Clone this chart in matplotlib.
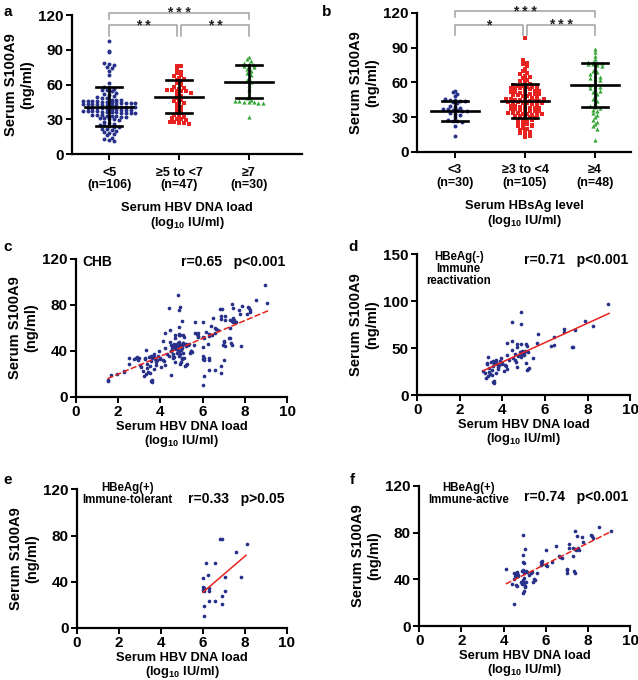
import numpy as np
import matplotlib
matplotlib.use("Agg")
import matplotlib.pyplot as plt

plt.rcParams['font.family'] = ['Liberation Sans', 'DejaVu Sans']
plt.rcParams['font.weight'] = 'bold'
plt.rcParams['axes.labelweight'] = 'bold'
plt.rcParams['mathtext.fontset'] = 'custom'
plt.rcParams['mathtext.rm'] = 'Liberation Sans:bold'
plt.rcParams['mathtext.bf'] = 'Liberation Sans:bold'
plt.rcParams['mathtext.default'] = 'bf'

# ---- panel a: S100A9 by HBV DNA load group ----
a_cats = ['<5\n(n=106)', '≥5 to <7\n(n=47)', '≥7\n(n=30)']
a_g1 = [98, 89, 88, 79, 78, 77, 75, 74, 72, 68, 61, 58, 57, 56, 55, 55,
        54, 53, 52, 51, 50, 49, 48, 48, 47, 47, 47, 46, 46, 46, 46, 45, 45, 45, 45,
        44, 44, 44, 44, 43, 43, 43, 43, 42, 42, 42, 42, 41, 41, 41, 41, 40, 40, 40, 40,
        39, 39, 39, 38, 38, 38, 37, 37, 37, 37, 36, 36, 36, 36, 35, 35, 35, 35,
        34, 34, 34, 33, 33, 33, 32, 32, 31, 31, 30, 30,
        29, 28, 27, 26, 25, 25, 24, 23, 23, 22, 22, 21,
        20, 19, 18, 17, 16, 14, 13, 12, 11]
a_g2 = [76, 76, 73, 71, 70, 68, 67, 66, 65, 64, 63, 61, 60, 58, 56, 55, 55, 54, 54, 54,
        53, 52, 50, 48, 47, 46, 45, 44, 43, 41, 40, 38, 36, 35, 34, 33, 32, 31, 30, 30,
        29, 28, 28, 27, 27, 26, 57]
a_g3 = [84, 82, 80, 79, 78, 77, 76, 76, 75, 73, 72, 70, 68, 66, 64, 62, 60, 57, 55, 50,
        48, 47, 46, 46, 45, 45, 45, 44, 44, 32]
a_mean = [41, 49.5, 62.5]
a_sd = [16.5, 14.2, 14.5]
a_stars = [('* *', 0, 0.97, 111), ('* *', 1.03, 2, 111), ('* * *', 0, 2, 122)]

# ---- panel b: S100A9 by HBsAg level group ----
b_cats = ['<3\n(n=30)', '≥3 to <4\n(n=105)', '≥4\n(n=48)']
b_g1 = [53, 52, 50, 48, 46, 45, 45, 44, 44, 43, 42, 40, 39, 38, 37, 37, 36, 36, 35, 35,
        34, 33, 32, 30, 28, 27, 27, 26, 22, 14]
b_g2 = [98, 79, 77, 76, 74, 72, 70, 68, 67, 66, 65, 64, 62, 61, 60, 59, 58, 57, 57, 56,
        56, 55, 55, 55, 54, 54, 53, 53, 52, 52, 51, 51, 50, 50, 49, 49, 48, 48, 47, 47,
        46, 46, 45, 45, 45, 44, 44, 44, 43, 43, 43, 42, 42, 41, 41, 40, 40, 39, 39, 38,
        38, 37, 37, 36, 36, 35, 35, 35, 34, 34, 34, 33, 33, 32, 32, 31, 31, 30, 30, 29,
        28, 27, 26, 25, 24, 24, 23, 22, 21, 20, 19, 18, 17, 16, 15, 14, 13,
        56, 50, 46, 42, 38, 33, 28, 22]
b_g3 = [89, 86, 83, 80, 78, 78, 77, 77, 76, 76, 75, 74, 72, 70, 69, 67, 66, 64, 63, 62,
        60, 58, 57, 56, 55, 54, 53, 52, 50, 48, 46, 44, 42, 40, 39, 38, 36, 35, 34, 32,
        30, 28, 26, 24, 22, 20, 10, 65]
b_mean = [35.5, 44, 58]
b_sd = [8.5, 15, 19]
b_stars = [('*', 0, 0.97, 110), ('* * *', 1.03, 2, 110), ('* * *', 0, 2, 121.5)]

# ---- panel d: HBeAg(-) immune reactivation ----
d_x = [8.93, 4.85, 4.43, 4.88, 7.86, 8.26, 7.42, 6.87, 6.87, 5.65, 6.42, 6.29, 6.43, 7.26,
       7.3, 5.63, 4.21, 4.44, 4.68, 4.88, 5.08, 4.7, 5.13, 4.44, 4.22, 4.8, 4.85, 4.9,
       4.75, 4.85, 5.0, 5.05, 5.0, 5.2, 5.43, 4.65, 4.68, 5.1, 5.2, 5.25, 5.15, 3.31,
       3.28, 3.25, 3.45, 3.55, 3.65, 3.6, 3.7, 3.75, 3.85, 4.0, 4.1, 4.15, 3.7, 3.9,
       3.55, 3.2, 3.22, 3.35, 3.4, 3.5, 3.55, 3.6, 3.7, 3.8, 3.5, 3.8, 4.0, 4.2, 4.3,
       4.5, 4.6, 3.1, 3.35, 3.62, 3.3, 4.05, 3.95, 4.6]
d_y = [97.5, 88.6, 77.7, 75.9, 79, 74, 69, 70.5, 67.7, 65.6, 62, 52.8, 53.9, 51,
       51, 56, 56, 57.8, 54, 54, 54, 51, 52, 48, 43, 46, 44, 47,
       42, 41, 45, 47, 43, 46, 40, 35, 30, 34, 28, 29, 27, 41,
       34, 33, 35, 36, 36, 34, 35, 33, 32, 33, 32, 31, 37, 36,
       31, 23, 18, 25, 22, 21, 14, 15, 24, 28, 27, 30, 34, 28, 37,
       40, 37, 26, 29, 13, 20, 26, 40, 44]
d_fit = (10.34, -6.05, 3.1, 9.0)   # slope, intercept, x from, x to

# ---- panel e: HBeAg(+) immune-tolerant ----
e_x = [6.81, 6.9, 8.08, 7.57, 6.16, 6.57, 6.24, 7.05, 7.81, 6.02, 6.02, 6.05, 6.0,
       6.3, 6.3, 7.03, 6.89, 6.3, 6.57, 6.89, 6.05, 6.03, 6.06]
e_y = [76.6, 76.6, 72.3, 65.3, 56.4, 55.8, 45.8, 44.3, 44.3, 43.5, 35.7, 34.3, 33,
       34.3, 32, 32.2, 27.3, 23.5, 23.5, 20.5, 18.6, 10.6, 31.8]
e_fit = (15.6, -62.7, 6.0, 8.05)

# ---- panel f: HBeAg(+) immune-active ----
f_x = [8.52, 7.39, 9.07, 7.46, 7.7, 8.13, 8.2, 8.25, 4.94, 7.76, 5.0, 7.08, 7.08,
       6.49, 6.0, 7.3, 7.38, 7.45, 7.5, 7.3, 7.55, 6.6, 6.65, 6.75, 4.9, 5.8, 5.8,
       5.75, 5.78, 6.0, 6.05, 6.3, 7.0, 7.02, 6.98, 7.35, 7.37, 4.9, 4.95, 4.9,
       4.85, 4.1, 4.5, 4.6, 4.65, 4.7, 4.55, 4.62, 4.68, 4.95, 5.05, 5.1, 5.2, 5.3,
       5.35, 5.6, 4.5, 4.8, 4.9, 4.95, 4.88, 5.0, 5.02, 5.05, 4.98, 5.45, 5.5, 5.4,
       4.6, 4.62, 4.4, 4.94, 4.98, 4.5]
f_y = [84.6, 81, 81.4, 77.3, 76, 78, 77, 75.5, 78.2, 72, 66.2, 70, 67,
       68.3, 65, 67, 66, 65.5, 66.5, 60, 65.5, 60, 59.5, 58, 60.5, 56, 53,
       55, 52.5, 52, 51, 55, 49, 48, 45, 47, 45, 55, 54, 48,
       47, 48.5, 45, 44, 46, 43, 42.5, 45, 44, 45, 47, 46, 44, 45.5,
       46, 45, 40, 38, 39, 37, 36, 33, 34, 38, 41, 40, 39, 38,
       35, 34, 36, 28.5, 30, 19]
f_fit = (9.0, -0.9, 4.1, 9.1)

# ---- panel c: all CHB = d + e + f + remaining patients ----
c_extra_x = [1.5, 1.52, 1.66, 1.93, 2.26, 2.3, 2.5, 2.5, 2.76, 2.85, 2.9, 2.95, 3.0, 3.05]
c_extra_y = [15, 14, 19, 20, 23, 22, 29, 34, 33, 34, 35, 32, 34, 28]
c_x = d_x + e_x + f_x + c_extra_x
c_y = d_y + e_y + f_y + c_extra_y
c_fit = (7.76, 4.36, 1.5, 9.1)

navy = '#27318a'
red = '#e8221e'
green = '#35a637'
grey = '#a0a0a0'

xlab_dna = 'Serum HBV DNA load\n(log$_{10}$ IU/ml)'
xlab_hbs = 'Serum HBsAg level\n(log$_{10}$ IU/ml)'
ylab = 'Serum S100A9\n(ng/ml)'


def swarm(vals, center, binw=3.0, dx=0.068):
    vals = np.asarray(vals, dtype=float)
    bins = np.round(vals / binw)
    xs = np.empty(len(vals))
    for b in np.unique(bins):
        idx = np.where(bins == b)[0]
        n = len(idx)
        xs[idx] = center + (np.arange(n) - (n - 1) / 2) * dx
    return xs, vals


def style(ax):
    for s in ['top', 'right']:
        ax.spines[s].set_visible(False)
    for s in ['left', 'bottom']:
        ax.spines[s].set_linewidth(1.6)
    ax.tick_params(width=1.4, length=4, labelsize=11, pad=2)


def dot_panel(ax, groups, cats, means, sds, stars, xlim, xlabel):
    style(ax)
    styles = [(navy, 'o', 8), (red, 's', 10), (green, '^', 9)]
    for i, g in enumerate(groups):
        c, m, s = styles[i]
        xs, ys = swarm(g, i)
        ax.scatter(xs, ys, s=s, c=c, marker=m, linewidths=0, zorder=2)
        mu, sd = means[i], sds[i]
        ax.plot([i - 0.34, i + 0.34], [mu, mu], color='k', lw=1.9, zorder=3)
        ax.plot([i, i], [mu - sd, mu + sd], color='k', lw=1.9, zorder=3)
        for yy in (mu - sd, mu + sd):
            ax.plot([i - 0.19, i + 0.19], [yy, yy], color='k', lw=1.9, zorder=3)
    for txt, x0, x1, yb in stars:
        drop = 9 if x1 - x0 < 1.5 else 5
        ax.plot([x0, x0, x1, x1], [yb - drop, yb, yb, yb - drop], color=grey,
                lw=1.1, clip_on=False)
        ax.text((x0 + x1) / 2, yb - 4, txt, ha='center', va='baseline',
                fontsize=10, color='#222222')
    ax.set_ylim(0, 120)
    ax.set_yticks([0, 30, 60, 90, 120])
    ax.set_xlim(*xlim)
    ax.set_xticks(range(3))
    ax.set_xticklabels(cats, fontsize=9, linespacing=1.05)
    ax.tick_params(axis='x', pad=5)
    ax.set_xlabel(xlabel, fontsize=9.3, labelpad=8, linespacing=1.05)
    ax.set_ylabel(ylab, fontsize=10.5, labelpad=3)


def scatter_panel(ax, x, y, fit, dashed, ylim, yticks, label, label_xy, rtext, r_y):
    style(ax)
    ax.scatter(x, y, s=7, c=navy, linewidths=0, zorder=2)
    k, b, x0, x1 = fit
    xx = np.array([x0, x1])
    ax.plot(xx, k * xx + b, color=red, lw=1.1, ls=(0, (4, 1.5)) if dashed else '-',
            zorder=3)
    ax.set_xlim(0, 10)
    ax.set_xticks(range(0, 11, 2))
    ax.set_ylim(*ylim)
    ax.set_yticks(yticks)
    ax.set_xlabel(xlab_dna, fontsize=9.3, labelpad=1, linespacing=1.0)
    ax.set_ylabel(ylab, fontsize=10.5, labelpad=3)
    ax.text(label_xy[0], label_xy[1], label, ha='center', va='top', fontsize=8.3,
            linespacing=1.0)
    ax.text(9.9, r_y, rtext, ha='right', va='center', fontsize=10)


fig = plt.figure(figsize=(6.38, 6.80), dpi=100)

ax_a = fig.add_axes([0.113, 0.7735, 0.360, 0.2044])
dot_panel(ax_a, [a_g1, a_g2, a_g3], a_cats, a_mean, a_sd, a_stars,
          (-0.53, 2.757), xlab_dna)

ax_b = fig.add_axes([0.6536, 0.7765, 0.3354, 0.2044])
dot_panel(ax_b, [b_g1, b_g2, b_g3], b_cats, b_mean, b_sd, b_stars,
          (-0.543, 2.514), xlab_hbs)

ax_c = fig.add_axes([0.119, 0.4162, 0.331, 0.203])
scatter_panel(ax_c, c_x, c_y, fit=c_fit, dashed=True, ylim=(0, 120),
              yticks=[0, 40, 80, 120], label='', label_xy=(1, 120),
              rtext='r=0.65   p<0.001', r_y=117.6)
ax_c.text(0.3, 117.6, 'CHB', ha='left', va='center', fontsize=10)

ax_d = fig.add_axes([0.654, 0.419, 0.334, 0.207])
scatter_panel(ax_d, d_x, d_y, fit=d_fit, dashed=False, ylim=(0, 150),
              yticks=[0, 50, 100, 150], label='HBeAg(-)\nImmune\nreactivation',
              label_xy=(1.95, 154), rtext='r=0.71   p<0.001', r_y=143.6)

ax_e = fig.add_axes([0.1207, 0.0765, 0.329, 0.204])
scatter_panel(ax_e, e_x, e_y, fit=e_fit, dashed=False, ylim=(0, 120),
              yticks=[0, 40, 80, 120], label='HBeAg(+)\nImmune-tolerant',
              label_xy=(2.41, 126.5), rtext='r=0.33   p>0.05', r_y=112)

ax_f = fig.add_axes([0.657, 0.0794, 0.331, 0.206])
scatter_panel(ax_f, f_x, f_y, fit=f_fit, dashed=True, ylim=(0, 120),
              yticks=[0, 40, 80, 120], label='HBeAg(+)\nImmune-active',
              label_xy=(2.36, 123.5), rtext='r=0.74   p<0.001', r_y=110.8)

for letter, x, y in [('a', 3, 12), ('b', 322, 12), ('c', 3, 247),
                     ('d', 348, 247), ('e', 3, 480), ('f', 350, 480)]:
    fig.text(x / 638, 1 - y / 680, letter, fontsize=11, ha='left', va='center')

fig.savefig('out.png', dpi=100)
